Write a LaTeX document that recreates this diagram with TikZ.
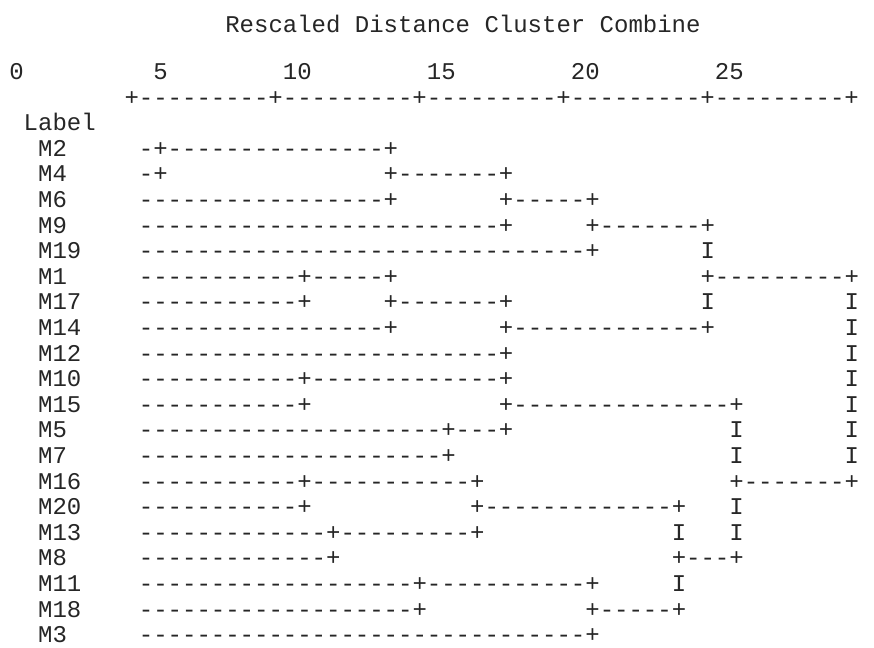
\documentclass[tikz,border=0pt]{standalone}
\usepackage{fontspec}
\setmonofont{Liberation Mono}
\usepackage{tikz}

% runs of dashes and blank columns, one column = one mono character
\newcommand{\dashrun}[1]{\ifnum#1>0 -\expandafter\dashrun\expandafter{\the\numexpr#1-1\relax}\fi}
\newcommand{\colgap}[1]{\hspace*{#1\fontcharwd\font`\-}}

\tikzset{
  txt/.style={anchor=base west, inner sep=0pt, outer sep=0pt, text=black!85,
    font=\fontsize{12}{14}\selectfont\ttfamily},
}

\begin{document}
\begin{tikzpicture}[x=7.2pt, y=-12.8pt]
    \fill[white] (-9.146,-1.105) rectangle (51.549,24.207);
    \useasboundingbox (-9.146,-1.105) rectangle (51.549,24.207);

    \node[txt] (title) at (6.5,0.16) {Rescaled Distance Cluster Combine};

    % scale
    \node[txt] (n0) at (-8.5,2) {0};
    \node[txt] (n5) at (1.5,2) {5};
    \node[txt] (n10) at (10.5,2) {10};
    \node[txt] (n15) at (20.5,2) {15};
    \node[txt] (n20) at (30.5,2) {20};
    \node[txt] (n25) at (40.5,2) {25};
    \node[txt] (scale) at (-0.5,3) {+\dashrun{9}+\dashrun{9}+\dashrun{9}+\dashrun{9}+\dashrun{9}+};

    \node[txt] (label) at (-7.5,4) {Label};

    % cases and tree
    \node[txt] (lM2) at (-6.5,5) {M2};
    \node[txt] (tM2) at (0.5,5) {-+\dashrun{15}+};
    \node[txt] (lM4) at (-6.5,6) {M4};
    \node[txt] (tM4) at (0.5,6) {-+\colgap{15}+\dashrun{7}+};
    \node[txt] (lM6) at (-6.5,7) {M6};
    \node[txt] (tM6) at (0.5,7) {\dashrun{17}+\colgap{7}+\dashrun{5}+};
    \node[txt] (lM9) at (-6.5,8) {M9};
    \node[txt] (tM9) at (0.5,8) {\dashrun{25}+\colgap{5}+\dashrun{7}+};
    \node[txt] (lM19) at (-6.5,9) {M19};
    \node[txt] (tM19) at (0.5,9) {\dashrun{31}+\colgap{7}I};
    \node[txt] (lM1) at (-6.5,10) {M1};
    \node[txt] (tM1) at (0.5,10) {\dashrun{11}+\dashrun{5}+\colgap{21}+\dashrun{9}+};
    \node[txt] (lM17) at (-6.5,11) {M17};
    \node[txt] (tM17) at (0.5,11) {\dashrun{11}+\colgap{5}+\dashrun{7}+\colgap{13}I\colgap{9}I};
    \node[txt] (lM14) at (-6.5,12) {M14};
    \node[txt] (tM14) at (0.5,12) {\dashrun{17}+\colgap{7}+\dashrun{13}+\colgap{9}I};
    \node[txt] (lM12) at (-6.5,13) {M12};
    \node[txt] (tM12) at (0.5,13) {\dashrun{25}+\colgap{23}I};
    \node[txt] (lM10) at (-6.5,14) {M10};
    \node[txt] (tM10) at (0.5,14) {\dashrun{11}+\dashrun{13}+\colgap{23}I};
    \node[txt] (lM15) at (-6.5,15) {M15};
    \node[txt] (tM15) at (0.5,15) {\dashrun{11}+\colgap{13}+\dashrun{15}+\colgap{7}I};
    \node[txt] (lM5) at (-6.5,16) {M5};
    \node[txt] (tM5) at (0.5,16) {\dashrun{21}+\dashrun{3}+\colgap{15}I\colgap{7}I};
    \node[txt] (lM7) at (-6.5,17) {M7};
    \node[txt] (tM7) at (0.5,17) {\dashrun{21}+\colgap{19}I\colgap{7}I};
    \node[txt] (lM16) at (-6.5,18) {M16};
    \node[txt] (tM16) at (0.5,18) {\dashrun{11}+\dashrun{11}+\colgap{17}+\dashrun{7}+};
    \node[txt] (lM20) at (-6.5,19) {M20};
    \node[txt] (tM20) at (0.5,19) {\dashrun{11}+\colgap{11}+\dashrun{13}+\colgap{3}I};
    \node[txt] (lM13) at (-6.5,20) {M13};
    \node[txt] (tM13) at (0.5,20) {\dashrun{13}+\dashrun{9}+\colgap{13}I\colgap{3}I};
    \node[txt] (lM8) at (-6.5,21) {M8};
    \node[txt] (tM8) at (0.5,21) {\dashrun{13}+\colgap{23}+\dashrun{3}+};
    \node[txt] (lM11) at (-6.5,22) {M11};
    \node[txt] (tM11) at (0.5,22) {\dashrun{19}+\dashrun{11}+\colgap{5}I};
    \node[txt] (lM18) at (-6.5,23) {M18};
    \node[txt] (tM18) at (0.5,23) {\dashrun{19}+\colgap{11}+\dashrun{5}+};
    \node[txt] (lM3) at (-6.5,24) {M3};
    \node[txt] (tM3) at (0.5,24) {\dashrun{31}+};
\end{tikzpicture}
\end{document}
